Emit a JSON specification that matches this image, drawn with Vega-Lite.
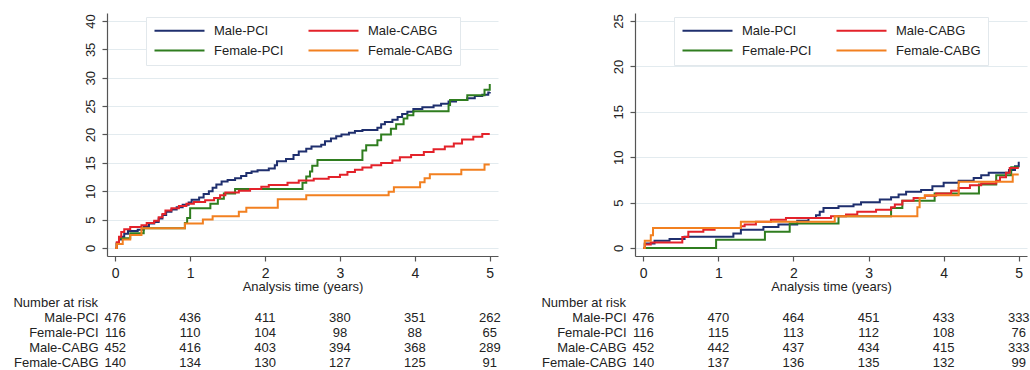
{
  "$schema": "https://vega.github.io/schema/vega-lite/v6.json",
  "background": "white",
  "padding": {"left": 13, "top": 13, "right": 0, "bottom": 0},
  "spacing": 40,
  "resolve": {"scale": {"color": "independent"}, "legend": {"color": "independent"}},
  "config": {
    "font": "Liberation Sans",
    "view": {"stroke": null},
    "axis": {"labelFont": "Liberation Sans", "labelFontSize": 13, "labelColor": "#222", "titleFont": "Liberation Sans", "titleFontSize": 13, "titleFontWeight": "normal", "titleColor": "#222", "domainColor": "#555", "tickColor": "#555", "gridColor": "#e3ebef", "domainWidth": 1.2, "tickWidth": 1.2},
    "title": {"font": "Liberation Sans", "fontSize": 13, "fontWeight": "normal", "color": "#222"},
    "legend": {"orient": "none", "legendX": 39, "legendY": 4, "direction": "horizontal", "columns": 2, "title": null, "symbolType": "M-1,0H9", "symbolSize": 100, "symbolStrokeWidth": 2, "symbolFillColor": "transparent", "labelFont": "Liberation Sans", "labelFontSize": 13, "labelColor": "#222", "labelOffset": 48, "columnPadding": 20, "rowPadding": 6, "padding": 7, "strokeColor": "#e2e8ec", "fillColor": "white"},
    "line": {"interpolate": "step-after", "strokeWidth": 2}
  },
  "datasets": {
    "curves": [
      {"p":"A","g":"Male-PCI","t":0,"y":0},{"p":"A","g":"Male-PCI","t":0.02,"y":0.8},{"p":"A","g":"Male-PCI","t":0.05,"y":1.5},{"p":"A","g":"Male-PCI","t":0.08,"y":2.0},{"p":"A","g":"Male-PCI","t":0.12,"y":2.5},{"p":"A","g":"Male-PCI","t":0.17,"y":3.0},{"p":"A","g":"Male-PCI","t":0.3,"y":3.2},{"p":"A","g":"Male-PCI","t":0.38,"y":3.8},{"p":"A","g":"Male-PCI","t":0.45,"y":4.3},{"p":"A","g":"Male-PCI","t":0.52,"y":4.6},{"p":"A","g":"Male-PCI","t":0.58,"y":5.2},{"p":"A","g":"Male-PCI","t":0.63,"y":5.8},{"p":"A","g":"Male-PCI","t":0.68,"y":6.4},{"p":"A","g":"Male-PCI","t":0.75,"y":6.8},{"p":"A","g":"Male-PCI","t":0.82,"y":7.2},{"p":"A","g":"Male-PCI","t":0.9,"y":7.6},{"p":"A","g":"Male-PCI","t":0.98,"y":8.0},{"p":"A","g":"Male-PCI","t":1.02,"y":8.5},{"p":"A","g":"Male-PCI","t":1.12,"y":8.9},{"p":"A","g":"Male-PCI","t":1.18,"y":9.5},{"p":"A","g":"Male-PCI","t":1.25,"y":10.0},{"p":"A","g":"Male-PCI","t":1.3,"y":10.6},{"p":"A","g":"Male-PCI","t":1.35,"y":11.2},{"p":"A","g":"Male-PCI","t":1.42,"y":11.7},{"p":"A","g":"Male-PCI","t":1.5,"y":12.0},{"p":"A","g":"Male-PCI","t":1.6,"y":12.3},{"p":"A","g":"Male-PCI","t":1.68,"y":12.7},{"p":"A","g":"Male-PCI","t":1.75,"y":13.2},{"p":"A","g":"Male-PCI","t":1.82,"y":13.5},{"p":"A","g":"Male-PCI","t":1.9,"y":13.7},{"p":"A","g":"Male-PCI","t":2.05,"y":14.0},{"p":"A","g":"Male-PCI","t":2.13,"y":14.6},{"p":"A","g":"Male-PCI","t":2.16,"y":15.3},{"p":"A","g":"Male-PCI","t":2.28,"y":15.7},{"p":"A","g":"Male-PCI","t":2.38,"y":16.4},{"p":"A","g":"Male-PCI","t":2.45,"y":17.0},{"p":"A","g":"Male-PCI","t":2.55,"y":17.5},{"p":"A","g":"Male-PCI","t":2.62,"y":17.9},{"p":"A","g":"Male-PCI","t":2.75,"y":18.2},{"p":"A","g":"Male-PCI","t":2.8,"y":18.8},{"p":"A","g":"Male-PCI","t":2.88,"y":19.3},{"p":"A","g":"Male-PCI","t":2.95,"y":19.7},{"p":"A","g":"Male-PCI","t":3.02,"y":20.0},{"p":"A","g":"Male-PCI","t":3.12,"y":20.3},{"p":"A","g":"Male-PCI","t":3.2,"y":20.6},{"p":"A","g":"Male-PCI","t":3.3,"y":20.8},{"p":"A","g":"Male-PCI","t":3.5,"y":21.2},{"p":"A","g":"Male-PCI","t":3.55,"y":21.8},{"p":"A","g":"Male-PCI","t":3.6,"y":22.2},{"p":"A","g":"Male-PCI","t":3.7,"y":22.6},{"p":"A","g":"Male-PCI","t":3.77,"y":23.1},{"p":"A","g":"Male-PCI","t":3.83,"y":23.6},{"p":"A","g":"Male-PCI","t":3.9,"y":24.0},{"p":"A","g":"Male-PCI","t":3.98,"y":24.5},{"p":"A","g":"Male-PCI","t":4.1,"y":24.8},{"p":"A","g":"Male-PCI","t":4.25,"y":25.1},{"p":"A","g":"Male-PCI","t":4.35,"y":25.4},{"p":"A","g":"Male-PCI","t":4.45,"y":25.8},{"p":"A","g":"Male-PCI","t":4.55,"y":26.1},{"p":"A","g":"Male-PCI","t":4.7,"y":26.4},{"p":"A","g":"Male-PCI","t":4.8,"y":26.8},{"p":"A","g":"Male-PCI","t":4.9,"y":27.0},{"p":"A","g":"Male-PCI","t":4.98,"y":27.4},{"p":"A","g":"Male-PCI","t":5.0,"y":27.5},
      {"p":"A","g":"Female-PCI","t":0,"y":0},{"p":"A","g":"Female-PCI","t":0.02,"y":0.8},{"p":"A","g":"Female-PCI","t":0.05,"y":1.7},{"p":"A","g":"Female-PCI","t":0.2,"y":2.6},{"p":"A","g":"Female-PCI","t":0.38,"y":3.5},{"p":"A","g":"Female-PCI","t":0.93,"y":4.4},{"p":"A","g":"Female-PCI","t":0.96,"y":5.3},{"p":"A","g":"Female-PCI","t":1.0,"y":7.0},{"p":"A","g":"Female-PCI","t":1.27,"y":7.8},{"p":"A","g":"Female-PCI","t":1.37,"y":8.7},{"p":"A","g":"Female-PCI","t":1.45,"y":9.6},{"p":"A","g":"Female-PCI","t":1.6,"y":10.4},{"p":"A","g":"Female-PCI","t":2.5,"y":11.5},{"p":"A","g":"Female-PCI","t":2.55,"y":12.6},{"p":"A","g":"Female-PCI","t":2.6,"y":13.5},{"p":"A","g":"Female-PCI","t":2.63,"y":14.5},{"p":"A","g":"Female-PCI","t":2.7,"y":15.5},{"p":"A","g":"Female-PCI","t":3.3,"y":17.2},{"p":"A","g":"Female-PCI","t":3.35,"y":18.1},{"p":"A","g":"Female-PCI","t":3.5,"y":19.0},{"p":"A","g":"Female-PCI","t":3.55,"y":20.0},{"p":"A","g":"Female-PCI","t":3.68,"y":21.0},{"p":"A","g":"Female-PCI","t":3.75,"y":21.8},{"p":"A","g":"Female-PCI","t":3.85,"y":22.8},{"p":"A","g":"Female-PCI","t":3.9,"y":23.4},{"p":"A","g":"Female-PCI","t":3.98,"y":24.1},{"p":"A","g":"Female-PCI","t":4.45,"y":25.2},{"p":"A","g":"Female-PCI","t":4.47,"y":26.1},{"p":"A","g":"Female-PCI","t":4.7,"y":26.9},{"p":"A","g":"Female-PCI","t":4.93,"y":27.9},{"p":"A","g":"Female-PCI","t":5.0,"y":28.9},
      {"p":"A","g":"Male-CABG","t":0,"y":0},{"p":"A","g":"Male-CABG","t":0.02,"y":1.0},{"p":"A","g":"Male-CABG","t":0.05,"y":2.0},{"p":"A","g":"Male-CABG","t":0.08,"y":2.8},{"p":"A","g":"Male-CABG","t":0.12,"y":3.3},{"p":"A","g":"Male-CABG","t":0.2,"y":3.7},{"p":"A","g":"Male-CABG","t":0.35,"y":4.0},{"p":"A","g":"Male-CABG","t":0.42,"y":4.4},{"p":"A","g":"Male-CABG","t":0.52,"y":4.8},{"p":"A","g":"Male-CABG","t":0.58,"y":5.4},{"p":"A","g":"Male-CABG","t":0.63,"y":6.0},{"p":"A","g":"Male-CABG","t":0.67,"y":6.6},{"p":"A","g":"Male-CABG","t":0.75,"y":7.0},{"p":"A","g":"Male-CABG","t":0.85,"y":7.4},{"p":"A","g":"Male-CABG","t":0.95,"y":7.8},{"p":"A","g":"Male-CABG","t":1.05,"y":8.1},{"p":"A","g":"Male-CABG","t":1.2,"y":8.4},{"p":"A","g":"Male-CABG","t":1.32,"y":8.8},{"p":"A","g":"Male-CABG","t":1.4,"y":9.3},{"p":"A","g":"Male-CABG","t":1.47,"y":9.8},{"p":"A","g":"Male-CABG","t":1.65,"y":10.1},{"p":"A","g":"Male-CABG","t":1.8,"y":10.4},{"p":"A","g":"Male-CABG","t":1.95,"y":10.8},{"p":"A","g":"Male-CABG","t":2.05,"y":11.1},{"p":"A","g":"Male-CABG","t":2.3,"y":11.5},{"p":"A","g":"Male-CABG","t":2.45,"y":11.9},{"p":"A","g":"Male-CABG","t":2.65,"y":12.2},{"p":"A","g":"Male-CABG","t":2.85,"y":12.5},{"p":"A","g":"Male-CABG","t":3.0,"y":12.9},{"p":"A","g":"Male-CABG","t":3.1,"y":13.4},{"p":"A","g":"Male-CABG","t":3.2,"y":13.8},{"p":"A","g":"Male-CABG","t":3.3,"y":14.2},{"p":"A","g":"Male-CABG","t":3.42,"y":14.6},{"p":"A","g":"Male-CABG","t":3.55,"y":15.0},{"p":"A","g":"Male-CABG","t":3.7,"y":15.4},{"p":"A","g":"Male-CABG","t":3.8,"y":16.0},{"p":"A","g":"Male-CABG","t":3.95,"y":16.4},{"p":"A","g":"Male-CABG","t":4.12,"y":16.9},{"p":"A","g":"Male-CABG","t":4.25,"y":17.4},{"p":"A","g":"Male-CABG","t":4.4,"y":17.9},{"p":"A","g":"Male-CABG","t":4.52,"y":18.4},{"p":"A","g":"Male-CABG","t":4.63,"y":19.1},{"p":"A","g":"Male-CABG","t":4.78,"y":19.6},{"p":"A","g":"Male-CABG","t":4.9,"y":20.1},{"p":"A","g":"Male-CABG","t":5.0,"y":20.1},
      {"p":"A","g":"Female-CABG","t":0,"y":0},{"p":"A","g":"Female-CABG","t":0.02,"y":0.7},{"p":"A","g":"Female-CABG","t":0.1,"y":1.5},{"p":"A","g":"Female-CABG","t":0.2,"y":2.3},{"p":"A","g":"Female-CABG","t":0.35,"y":3.5},{"p":"A","g":"Female-CABG","t":0.93,"y":4.3},{"p":"A","g":"Female-CABG","t":1.17,"y":5.0},{"p":"A","g":"Female-CABG","t":1.3,"y":5.6},{"p":"A","g":"Female-CABG","t":1.65,"y":6.4},{"p":"A","g":"Female-CABG","t":1.75,"y":7.1},{"p":"A","g":"Female-CABG","t":2.17,"y":8.6},{"p":"A","g":"Female-CABG","t":2.55,"y":9.3},{"p":"A","g":"Female-CABG","t":3.65,"y":9.9},{"p":"A","g":"Female-CABG","t":3.72,"y":10.7},{"p":"A","g":"Female-CABG","t":4.07,"y":11.6},{"p":"A","g":"Female-CABG","t":4.13,"y":12.3},{"p":"A","g":"Female-CABG","t":4.2,"y":13.0},{"p":"A","g":"Female-CABG","t":4.62,"y":13.8},{"p":"A","g":"Female-CABG","t":4.93,"y":14.7},{"p":"A","g":"Female-CABG","t":5.0,"y":14.7},
      {"p":"B","g":"Male-PCI","t":0,"y":0},{"p":"B","g":"Male-PCI","t":0.02,"y":0.5},{"p":"B","g":"Male-PCI","t":0.15,"y":0.8},{"p":"B","g":"Male-PCI","t":0.35,"y":1.0},{"p":"B","g":"Male-PCI","t":0.55,"y":1.25},{"p":"B","g":"Male-PCI","t":1.2,"y":1.6},{"p":"B","g":"Male-PCI","t":1.3,"y":2.0},{"p":"B","g":"Male-PCI","t":1.6,"y":2.3},{"p":"B","g":"Male-PCI","t":1.8,"y":2.6},{"p":"B","g":"Male-PCI","t":2.05,"y":3.0},{"p":"B","g":"Male-PCI","t":2.2,"y":3.3},{"p":"B","g":"Male-PCI","t":2.3,"y":3.6},{"p":"B","g":"Male-PCI","t":2.35,"y":4.0},{"p":"B","g":"Male-PCI","t":2.4,"y":4.4},{"p":"B","g":"Male-PCI","t":2.6,"y":4.6},{"p":"B","g":"Male-PCI","t":2.8,"y":4.8},{"p":"B","g":"Male-PCI","t":2.9,"y":5.05},{"p":"B","g":"Male-PCI","t":3.15,"y":5.35},{"p":"B","g":"Male-PCI","t":3.3,"y":5.6},{"p":"B","g":"Male-PCI","t":3.4,"y":5.9},{"p":"B","g":"Male-PCI","t":3.5,"y":6.2},{"p":"B","g":"Male-PCI","t":3.7,"y":6.4},{"p":"B","g":"Male-PCI","t":3.85,"y":6.8},{"p":"B","g":"Male-PCI","t":4.0,"y":7.2},{"p":"B","g":"Male-PCI","t":4.2,"y":7.4},{"p":"B","g":"Male-PCI","t":4.4,"y":7.7},{"p":"B","g":"Male-PCI","t":4.5,"y":8.0},{"p":"B","g":"Male-PCI","t":4.6,"y":8.3},{"p":"B","g":"Male-PCI","t":4.87,"y":8.6},{"p":"B","g":"Male-PCI","t":4.95,"y":9.0},{"p":"B","g":"Male-PCI","t":5.0,"y":9.5},
      {"p":"B","g":"Female-PCI","t":0,"y":0},{"p":"B","g":"Female-PCI","t":0.97,"y":0.9},{"p":"B","g":"Female-PCI","t":1.62,"y":1.8},{"p":"B","g":"Female-PCI","t":1.95,"y":2.7},{"p":"B","g":"Female-PCI","t":2.6,"y":3.5},{"p":"B","g":"Female-PCI","t":3.3,"y":4.4},{"p":"B","g":"Female-PCI","t":3.45,"y":5.2},{"p":"B","g":"Female-PCI","t":3.88,"y":6.0},{"p":"B","g":"Female-PCI","t":4.47,"y":7.0},{"p":"B","g":"Female-PCI","t":4.7,"y":8.0},{"p":"B","g":"Female-PCI","t":4.9,"y":8.9},{"p":"B","g":"Female-PCI","t":5.0,"y":8.9},
      {"p":"B","g":"Male-CABG","t":0,"y":0},{"p":"B","g":"Male-CABG","t":0.02,"y":0.4},{"p":"B","g":"Male-CABG","t":0.1,"y":0.6},{"p":"B","g":"Male-CABG","t":0.52,"y":1.2},{"p":"B","g":"Male-CABG","t":0.6,"y":1.8},{"p":"B","g":"Male-CABG","t":0.8,"y":2.0},{"p":"B","g":"Male-CABG","t":0.95,"y":2.2},{"p":"B","g":"Male-CABG","t":1.3,"y":2.4},{"p":"B","g":"Male-CABG","t":1.35,"y":2.6},{"p":"B","g":"Male-CABG","t":1.5,"y":2.9},{"p":"B","g":"Male-CABG","t":1.7,"y":3.1},{"p":"B","g":"Male-CABG","t":1.9,"y":3.3},{"p":"B","g":"Male-CABG","t":2.5,"y":3.5},{"p":"B","g":"Male-CABG","t":2.7,"y":3.7},{"p":"B","g":"Male-CABG","t":2.85,"y":4.0},{"p":"B","g":"Male-CABG","t":3.1,"y":4.2},{"p":"B","g":"Male-CABG","t":3.3,"y":4.5},{"p":"B","g":"Male-CABG","t":3.35,"y":4.8},{"p":"B","g":"Male-CABG","t":3.45,"y":5.2},{"p":"B","g":"Male-CABG","t":3.6,"y":5.5},{"p":"B","g":"Male-CABG","t":3.75,"y":5.75},{"p":"B","g":"Male-CABG","t":3.9,"y":6.0},{"p":"B","g":"Male-CABG","t":4.1,"y":6.3},{"p":"B","g":"Male-CABG","t":4.2,"y":6.6},{"p":"B","g":"Male-CABG","t":4.35,"y":6.9},{"p":"B","g":"Male-CABG","t":4.5,"y":7.1},{"p":"B","g":"Male-CABG","t":4.7,"y":7.4},{"p":"B","g":"Male-CABG","t":4.75,"y":7.8},{"p":"B","g":"Male-CABG","t":4.83,"y":8.3},{"p":"B","g":"Male-CABG","t":4.88,"y":8.8},{"p":"B","g":"Male-CABG","t":5.0,"y":8.8},
      {"p":"B","g":"Female-CABG","t":0,"y":0},{"p":"B","g":"Female-CABG","t":0.02,"y":0.8},{"p":"B","g":"Female-CABG","t":0.1,"y":1.4},{"p":"B","g":"Female-CABG","t":0.13,"y":2.2},{"p":"B","g":"Female-CABG","t":1.3,"y":2.9},{"p":"B","g":"Female-CABG","t":2.55,"y":3.5},{"p":"B","g":"Female-CABG","t":3.65,"y":4.5},{"p":"B","g":"Female-CABG","t":3.68,"y":5.5},{"p":"B","g":"Female-CABG","t":3.75,"y":5.8},{"p":"B","g":"Female-CABG","t":4.2,"y":7.3},{"p":"B","g":"Female-CABG","t":4.92,"y":8.1},{"p":"B","g":"Female-CABG","t":5.0,"y":8.1}
    ],
    "risk": [
      {"p":"A","g":"Male-PCI","t":0,"n":476},{"p":"A","g":"Male-PCI","t":1,"n":436},{"p":"A","g":"Male-PCI","t":2,"n":411},{"p":"A","g":"Male-PCI","t":3,"n":380},{"p":"A","g":"Male-PCI","t":4,"n":351},{"p":"A","g":"Male-PCI","t":5,"n":262},
      {"p":"A","g":"Female-PCI","t":0,"n":116},{"p":"A","g":"Female-PCI","t":1,"n":110},{"p":"A","g":"Female-PCI","t":2,"n":104},{"p":"A","g":"Female-PCI","t":3,"n":98},{"p":"A","g":"Female-PCI","t":4,"n":88},{"p":"A","g":"Female-PCI","t":5,"n":65},
      {"p":"A","g":"Male-CABG","t":0,"n":452},{"p":"A","g":"Male-CABG","t":1,"n":416},{"p":"A","g":"Male-CABG","t":2,"n":403},{"p":"A","g":"Male-CABG","t":3,"n":394},{"p":"A","g":"Male-CABG","t":4,"n":368},{"p":"A","g":"Male-CABG","t":5,"n":289},
      {"p":"A","g":"Female-CABG","t":0,"n":140},{"p":"A","g":"Female-CABG","t":1,"n":134},{"p":"A","g":"Female-CABG","t":2,"n":130},{"p":"A","g":"Female-CABG","t":3,"n":127},{"p":"A","g":"Female-CABG","t":4,"n":125},{"p":"A","g":"Female-CABG","t":5,"n":91},
      {"p":"B","g":"Male-PCI","t":0,"n":476},{"p":"B","g":"Male-PCI","t":1,"n":470},{"p":"B","g":"Male-PCI","t":2,"n":464},{"p":"B","g":"Male-PCI","t":3,"n":451},{"p":"B","g":"Male-PCI","t":4,"n":433},{"p":"B","g":"Male-PCI","t":5,"n":333},
      {"p":"B","g":"Female-PCI","t":0,"n":116},{"p":"B","g":"Female-PCI","t":1,"n":115},{"p":"B","g":"Female-PCI","t":2,"n":113},{"p":"B","g":"Female-PCI","t":3,"n":112},{"p":"B","g":"Female-PCI","t":4,"n":108},{"p":"B","g":"Female-PCI","t":5,"n":76},
      {"p":"B","g":"Male-CABG","t":0,"n":452},{"p":"B","g":"Male-CABG","t":1,"n":442},{"p":"B","g":"Male-CABG","t":2,"n":437},{"p":"B","g":"Male-CABG","t":3,"n":434},{"p":"B","g":"Male-CABG","t":4,"n":415},{"p":"B","g":"Male-CABG","t":5,"n":333},
      {"p":"B","g":"Female-CABG","t":0,"n":140},{"p":"B","g":"Female-CABG","t":1,"n":137},{"p":"B","g":"Female-CABG","t":2,"n":136},{"p":"B","g":"Female-CABG","t":3,"n":135},{"p":"B","g":"Female-CABG","t":4,"n":132},{"p":"B","g":"Female-CABG","t":5,"n":99}
    ]
  },
  "hconcat": [
    {
      "spacing": 4,
      "vconcat": [
        {
          "width": 391, "height": 243,
          "data": {"name": "curves"},
          "transform": [{"filter": "datum.p == 'A'"}],
          "mark": {"type": "line"},
          "encoding": {
            "x": {"field": "t", "type": "quantitative", "scale": {"domain": [-0.11, 5.11], "nice": false, "zero": false}, "axis": {"values": [0,1,2,3,4,5], "title": "Analysis time (years)", "grid": false, "tickSize": 5, "labelPadding": 5, "titlePadding": 0, "labelFontSize": 14}},
            "y": {"field": "y", "type": "quantitative", "scale": {"domain": [-1.41, 41.41], "nice": false, "zero": false}, "axis": {"values": [0,5,10,15,20,25,30,35,40], "title": null, "labelAngle": 270, "labelAlign": "center", "labelBaseline": "bottom", "tickSize": 5, "labelPadding": 5, "grid": true}},
            "color": {"field": "g", "type": "nominal", "scale": {"domain": ["Male-PCI","Male-CABG","Female-PCI","Female-CABG"], "range": ["#1f2f6e","#e3222a","#2f7d1f","#f28020"]}}
          }
        },
        {
          "width": 391, "height": 60,
          "data": {"name": "risk"},
          "transform": [{"filter": "datum.p == 'A'"}],
          "title": {"text": "Number at risk", "anchor": "start", "frame": "bounds", "offset": 0},
          "mark": {"type": "text", "fontSize": 13, "color": "#222"},
          "encoding": {
            "x": {"field": "t", "type": "quantitative", "scale": {"domain": [-0.11, 5.11], "nice": false, "zero": false}, "axis": null},
            "y": {"field": "g", "type": "nominal", "sort": ["Male-PCI","Female-PCI","Male-CABG","Female-CABG"], "scale": {"paddingInner": 0, "paddingOuter": 0}, "axis": {"title": null, "domain": false, "ticks": false, "grid": false, "labelPadding": 9, "labelFontSize": 13}},
            "text": {"field": "n", "type": "quantitative"}
          }
        }
      ]
    },
    {
      "spacing": 4,
      "vconcat": [
        {
          "width": 392, "height": 243,
          "data": {"name": "curves"},
          "transform": [{"filter": "datum.p == 'B'"}],
          "mark": {"type": "line"},
          "encoding": {
            "x": {"field": "t", "type": "quantitative", "scale": {"domain": [-0.11, 5.11], "nice": false, "zero": false}, "axis": {"values": [0,1,2,3,4,5], "title": "Analysis time (years)", "grid": false, "tickSize": 5, "labelPadding": 5, "titlePadding": 0, "labelFontSize": 14}},
            "y": {"field": "y", "type": "quantitative", "scale": {"domain": [-0.88, 25.88], "nice": false, "zero": false}, "axis": {"values": [0,5,10,15,20,25], "title": null, "labelAngle": 270, "labelAlign": "center", "labelBaseline": "bottom", "tickSize": 5, "labelPadding": 5, "grid": true}},
            "color": {"field": "g", "type": "nominal", "scale": {"domain": ["Male-PCI","Male-CABG","Female-PCI","Female-CABG"], "range": ["#1f2f6e","#e3222a","#2f7d1f","#f28020"]}}
          }
        },
        {
          "width": 392, "height": 60,
          "data": {"name": "risk"},
          "transform": [{"filter": "datum.p == 'B'"}],
          "title": {"text": "Number at risk", "anchor": "start", "frame": "bounds", "offset": 0},
          "mark": {"type": "text", "fontSize": 13, "color": "#222"},
          "encoding": {
            "x": {"field": "t", "type": "quantitative", "scale": {"domain": [-0.11, 5.11], "nice": false, "zero": false}, "axis": null},
            "y": {"field": "g", "type": "nominal", "sort": ["Male-PCI","Female-PCI","Male-CABG","Female-CABG"], "scale": {"paddingInner": 0, "paddingOuter": 0}, "axis": {"title": null, "domain": false, "ticks": false, "grid": false, "labelPadding": 9, "labelFontSize": 13}},
            "text": {"field": "n", "type": "quantitative"}
          }
        }
      ]
    }
  ]
}
